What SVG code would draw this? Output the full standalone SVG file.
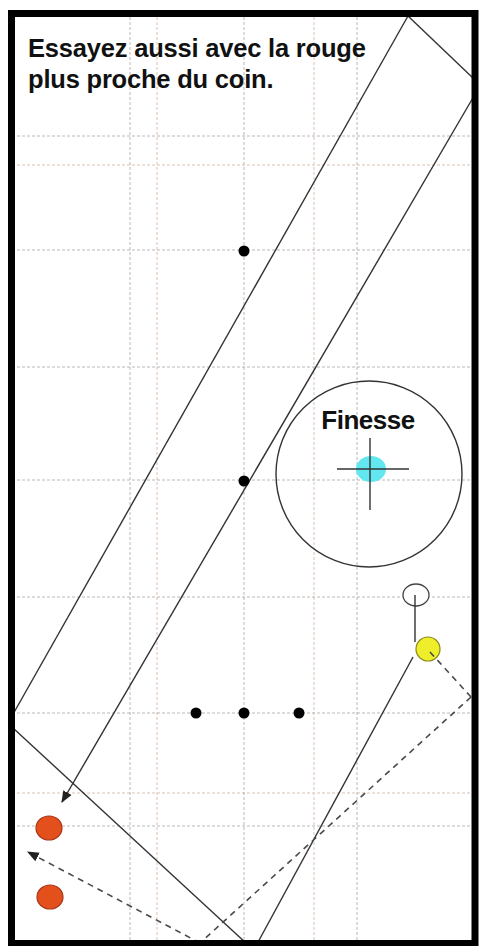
<svg xmlns="http://www.w3.org/2000/svg" width="479" height="946" viewBox="0 0 479 946">
<style>
.grid{stroke:#a0a0a0;stroke-width:1;stroke-dasharray:3 2;fill:none;opacity:0.75}
.faint{stroke:#e6d6cc;stroke-width:1.5;stroke-dasharray:3 2;fill:none}
.ln{stroke:#333;stroke-width:1.4;fill:none}
.dash{stroke:#4a4a4a;stroke-width:1.6;stroke-dasharray:6 5;fill:none}
.dot{fill:#000}
.red{fill:#e4501c;stroke:#a8361a;stroke-width:1.2}
.lbl{font-family:"Liberation Sans",Arial,sans-serif;font-weight:bold;fill:#111}
</style>
<defs>
<marker id="ah" markerUnits="userSpaceOnUse" markerWidth="12" markerHeight="12" viewBox="0 0 10 10" refX="9" refY="5" orient="auto">
<path d="M0,1 L10,5 L0,9 Z" fill="#222"/>
</marker>
</defs>
<rect x="0" y="0" width="479" height="946" fill="#fff"/>
<g id="grid">
<line class="faint" x1="157" y1="17" x2="157" y2="941"/>
<line class="faint" x1="314" y1="17" x2="314" y2="941"/>
<line class="faint" x1="12" y1="165" x2="472" y2="165"/>
<line class="faint" x1="12" y1="793" x2="472" y2="793"/>
<line class="grid" x1="130" y1="17" x2="130" y2="941"/>
<line class="grid" x1="244" y1="17" x2="244" y2="941"/>
<line class="grid" x1="357" y1="17" x2="357" y2="941"/>
<line class="grid" x1="12" y1="136" x2="472" y2="136"/>
<line class="grid" x1="12" y1="250" x2="472" y2="250"/>
<line class="grid" x1="12" y1="367" x2="472" y2="367"/>
<line class="grid" x1="12" y1="480" x2="472" y2="480"/>
<line class="grid" x1="12" y1="597" x2="472" y2="597"/>
<line class="grid" x1="12" y1="713" x2="472" y2="713"/>
<line class="grid" x1="12" y1="826" x2="472" y2="826"/>
</g>
<g id="title">
<text class="lbl" x="28" y="57" font-size="25.5" letter-spacing="-0.2">Essayez aussi avec la rouge</text>
<text class="lbl" x="28" y="88" font-size="25.5" letter-spacing="-0.2">plus proche du coin.</text>
</g>
<g id="connectors">
<line class="ln" x1="408" y1="16" x2="12" y2="716"/>
<line class="ln" x1="408" y1="16" x2="474" y2="79"/>
<line class="ln" x1="474" y1="96" x2="62" y2="802" marker-end="url(#ah)"/>
<line class="ln" x1="13" y1="728" x2="247" y2="944"/>
<line class="ln" x1="413" y1="657" x2="257" y2="944"/>
<line class="dash" x1="471" y1="697" x2="200" y2="943"/>
<line class="dash" x1="200" y1="943" x2="28" y2="852" marker-end="url(#ah)"/>
</g>
<g id="dots">
<circle class="dot" cx="244" cy="251" r="5.5"/>
<circle class="dot" cx="244" cy="481" r="5.5"/>
<circle class="dot" cx="196" cy="713" r="5.5"/>
<circle class="dot" cx="244" cy="713" r="5.5"/>
<circle class="dot" cx="299" cy="713" r="5.5"/>
</g>
<g id="finesse">
<circle cx="369" cy="474" r="93" fill="none" stroke="#333" stroke-width="1.4"/>
<text class="lbl" x="368" y="429" font-size="26" letter-spacing="-0.5" text-anchor="middle">Finesse</text>
<ellipse cx="371" cy="469" rx="15" ry="13" fill="#62e6ef"/>
<line class="ln" x1="337" y1="469" x2="409" y2="469" stroke-width="1.5"/>
<line class="ln" x1="370" y1="438" x2="370" y2="510" stroke-width="1.5"/>
</g>
<g id="white-ball">
<ellipse cx="416" cy="595" rx="13" ry="11" fill="#fff" stroke="#444" stroke-width="1.3"/>
<line class="ln" x1="415" y1="595" x2="415" y2="642"/>
</g>
<g id="yellow-ball">
<circle cx="428" cy="649" r="12" fill="#eeee2a" stroke="#8a8a20" stroke-width="1.2"/>
<line class="dash" x1="430" y1="652" x2="471" y2="697"/>
</g>
<g id="red-balls">
<ellipse class="red" cx="49" cy="828" rx="13" ry="12"/>
<ellipse class="red" cx="50" cy="897" rx="13" ry="12"/>
</g>
<rect id="frame" x="11.5" y="13.5" width="463.5" height="930" fill="none" stroke="#000" stroke-width="7"/>
</svg>
